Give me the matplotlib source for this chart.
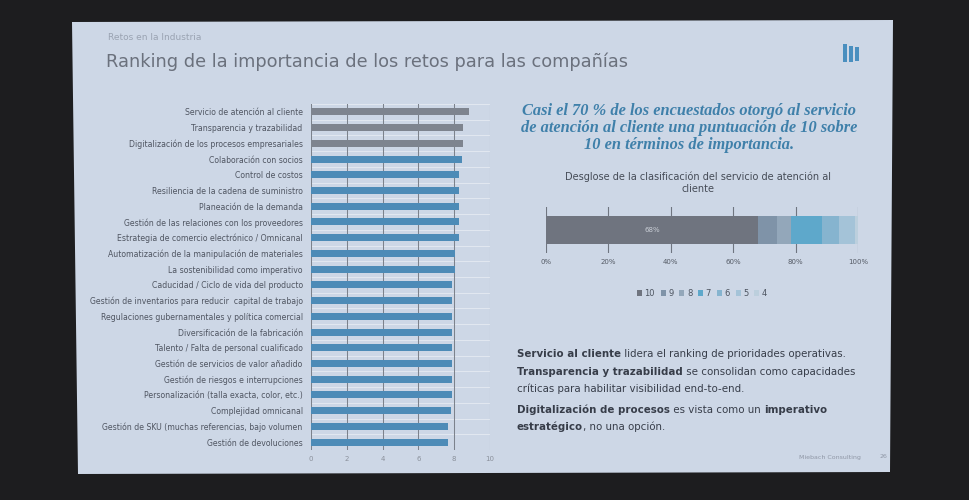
import numpy as np
import matplotlib
matplotlib.use("Agg")
import matplotlib.pyplot as plt
from matplotlib.patches import Polygon, Rectangle

# ranking data (average score 0-10)
retos = ["Servicio de atención al cliente",
         "Transparencia y trazabilidad",
         "Digitalización de los procesos empresariales",
         "Colaboración con socios",
         "Control de costos",
         "Resiliencia de la cadena de suministro",
         "Planeación de la demanda",
         "Gestión de las relaciones con los proveedores",
         "Estrategia de comercio electrónico / Omnicanal",
         "Automatización de la manipulación de materiales",
         "La sostenibilidad como imperativo",
         "Caducidad / Ciclo de vida del producto",
         "Gestión de inventarios para reducir  capital de trabajo",
         "Regulaciones gubernamentales y política comercial",
         "Diversificación de la fabricación",
         "Talento / Falta de personal cualificado",
         "Gestión de servicios de valor añadido",
         "Gestión de riesgos e interrupciones",
         "Personalización (talla exacta, color, etc.)",
         "Complejidad omnicanal",
         "Gestión de SKU (muchas referencias, bajo volumen",
         "Gestión de devoluciones"]
puntajes = [8.8, 8.5, 8.5, 8.45, 8.25, 8.25, 8.25, 8.25, 8.25, 8.05, 8.05,
            7.9, 7.87, 7.87, 7.86, 7.85, 7.85, 7.85, 7.85, 7.8, 7.65, 7.65]
x_ticks = [0, 2, 4, 6, 8, 10]

# breakdown of the customer service score
notas = ["10", "9", "8", "7", "6", "5", "4"]
shares = [68, 6, 4.5, 10, 5.5, 5, 1]
pct_ticks = [0, 20, 40, 60, 80, 100]

W, H = 970, 500
fig = plt.figure(figsize=(9.7, 5), dpi=100)
fig.patch.set_facecolor("#1d1d1f")

bg = fig.add_axes([0, 0, 1, 1])
bg.set_xlim(0, W)
bg.set_ylim(H, 0)
bg.axis("off")

# slide surface
bg.add_patch(Polygon([(72, 22), (893, 20), (890, 472), (78, 474)],
                     closed=True, facecolor="#cdd7e6", edgecolor="none"))

bg.text(108, 38, "Retos en la Industria", fontsize=6.5, color="#9aa3b2",
        va="center")
bg.text(106, 62, "Ranking de la importancia de los retos para las compañías",
        fontsize=12.8, color="#6b717d", va="center")

# logo
for i, (x0, h) in enumerate([(843, 18), (849, 16), (855, 14)]):
    bg.add_patch(Rectangle((x0, 44 + i * 1.5), 4.5, h, facecolor="#4a8fbf",
                           edgecolor="none"))

# left bar chart
ax = fig.add_axes([311 / W, 1 - 450 / H, 179 / W, (450 - 104) / H])
ax.set_facecolor("none")
y = np.arange(len(retos))
colors = ["#7e848f"] * 3 + ["#4d8bb7"] * (len(retos) - 3)
ax.barh(y, puntajes, height=0.45, color=colors, zorder=3)
ax.set_ylim(len(retos) - 0.5, -0.5)
ax.set_xlim(0, 10)
ax.set_yticks(y)
ax.set_yticklabels(retos, fontsize=5.6, color="#4f5561")
ax.set_xticks(x_ticks)
ax.set_xticklabels([str(t) for t in x_ticks], fontsize=5, color="#8a909b")
ax.tick_params(length=0, pad=4)
ax.tick_params(axis="y", pad=6)
for t in x_ticks:
    ax.axvline(t, color="#7c828c", lw=0.75, zorder=2)
for b in np.arange(len(retos) + 1) - 0.5:
    ax.axhline(b, color="#e6ebf3", lw=0.6, zorder=1)
for s in ax.spines.values():
    s.set_visible(False)

# right heading
heading = ("Casi el 70 % de los encuestados otorgó al servicio\n"
           "de atención al cliente una puntuación de 10 sobre\n"
           "10 en términos de importancia.")
bg.text(689, 128, heading, fontsize=11.8, family="Liberation Serif",
        style="italic", fontweight="bold", color="#3f80aa", ha="center",
        va="center", linespacing=1.05)

bg.text(698, 183, "Desglose de la clasificación del servicio de atención al\ncliente",
        fontsize=7, color="#454b56", ha="center", va="center", linespacing=1.2)

# stacked bar
ax2 = fig.add_axes([546 / W, 1 - 253 / H, 312 / W, (253 - 207) / H])
ax2.set_facecolor("none")
seg_colors = ["#6f747f", "#7f93a8", "#93a7ba", "#5ea8cb", "#86b4cf", "#a4c3d8",
              "#bccfdd"]
left = 0
for n, v, c in zip(notas, shares, seg_colors):
    ax2.barh(0, v, left=left, height=0.62, color=c, label=n, zorder=3)
    left += v
ax2.text(shares[0] / 2, 0, f"{shares[0]}%", fontsize=5, color="#c9ced6",
         ha="center", va="center", zorder=4)
ax2.set_xlim(0, 100)
ax2.set_ylim(-0.5, 0.5)
ax2.set_yticks([])
ax2.set_xticks(pct_ticks)
ax2.set_xticklabels([f"{t}%" for t in pct_ticks], fontsize=5, color="#555b66")
ax2.tick_params(length=0, pad=4)
for t in pct_ticks:
    ax2.axvline(t, color="#6f7580", lw=0.8, zorder=2)
for s in ax2.spines.values():
    s.set_visible(False)
ax2.legend(loc="upper center", bbox_to_anchor=(0.5, -0.62), ncol=7,
           frameon=False, fontsize=6, handlelength=0.6, handleheight=0.6,
           handletextpad=0.3, columnspacing=0.7, labelcolor="#4d5460")

# bullet texts with bold parts
lines = [
    (354, [("Servicio al cliente", True), (" lidera el ranking de prioridades operativas.", False)]),
    (372, [("Transparencia y trazabilidad", True), (" se consolidan como capacidades", False)]),
    (389, [("críticas para habilitar visibilidad end-to-end.", False)]),
    (410, [("Digitalización de procesos", True), (" es vista como un ", False), ("imperativo", True)]),
    (427, [("estratégico", True), (", no una opción.", False)]),
]
renderer = fig.canvas.get_renderer()
for yy, parts in lines:
    x = 517
    for s, bold in parts:
        t = bg.text(x, yy, s, fontsize=7.4, color="#373d49",
                    fontweight="bold" if bold else "normal", va="center")
        ext = t.get_window_extent(renderer)
        x += ext.width * W / fig.bbox.width

bg.text(830, 457, "Miebach Consulting", fontsize=4.5, color="#8f97a6",
        ha="center", va="center")
bg.text(883, 457, "26", fontsize=4.5, color="#8f97a6", ha="center",
        va="center")

fig.savefig("out.png", dpi=100, facecolor=fig.get_facecolor())
